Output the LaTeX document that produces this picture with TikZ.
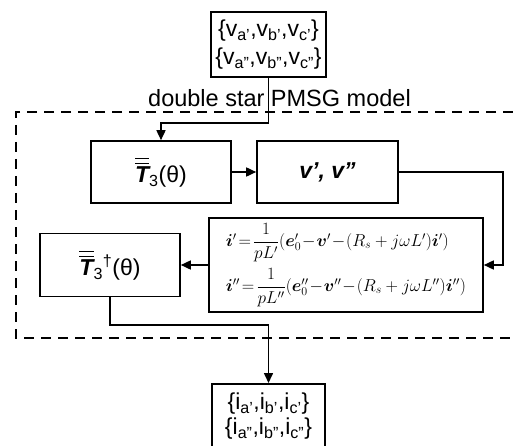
\documentclass[tikz,border=0pt]{standalone}
\usepackage{amsmath}
\usepackage{bm}
\usepackage{fontspec}
\setmainfont{Liberation Sans}
\usetikzlibrary{arrows.meta}
\newcommand{\TT}{$\overline{\overline{\text{\bfseries\itshape T}}}_{\text{3}}$}
\begin{document}
\begin{tikzpicture}[x=1pt,y=-1pt,
  box/.style={draw, line width=1.6pt, inner sep=0pt, align=center, font=\fontsize{23}{28}\selectfont},
  conn/.style={line width=1.6pt},
  arr/.style={conn,-{Triangle[length=10pt,width=9pt]}},
  frame/.style={line width=2.2pt, dash pattern=on 10pt off 7pt}]
\useasboundingbox (0,0) rectangle (513,446);
\clip (0,0) rectangle (513,446);

% dashed model frame
\draw[frame] (530,112) -- (16,112) -- (16,338) -- (530,338);
\node[font=\fontsize{23.5}{28}\selectfont, anchor=base, inner sep=0pt] (lbl) at (279.5,107) {double star PMSG model};

% nodes
\node[box, minimum width=115, minimum height=65] (vin) at (268.5,44.5)
  {\{v\textsubscript{a'},v\textsubscript{b'},v\textsubscript{c'}\}\\
   \{v\textsubscript{a"},v\textsubscript{b"},v\textsubscript{c"}\}};
\node[box, minimum width=140, minimum height=62] (T3) at (161,172) {\TT(θ)};
\node[box, minimum width=141, minimum height=62] (V) at (327.5,172) {{\bfseries\itshape v', v''}};
\node[box, minimum width=274, minimum height=94, align=left, font=\fontsize{18.5}{22}\selectfont] (eq) at (346,265)
  {$\bm{i}'\!=\!\dfrac{1}{pL'}(\bm{e}'_0\!-\!\bm{v}'\!-\!(R_s+j\omega L')\bm{i}')$\\[6pt]
   $\bm{i}''\!=\!\dfrac{1}{pL''}(\bm{e}''_0\!-\!\bm{v}''\!-\!(R_s+j\omega L'')\bm{i}'')$};
\node[box, minimum width=140, minimum height=63] (T3d) at (110,265) {\TT\textsuperscript{†}(θ)};
\node[box, minimum width=113, anchor=north, inner ysep=9pt, font=\fontsize{23}{25}\selectfont] (out) at (268.5,383)
  {\{i\textsubscript{a'},i\textsubscript{b'},i\textsubscript{c'}\}\\
   \{i\textsubscript{a"},i\textsubscript{b"},i\textsubscript{c"}\}};

% bend points
\coordinate (k1) at (161,123);
\coordinate (k2) at (503,172);
\coordinate (k3) at (503,265);
\coordinate (k4) at (268.5,325);

% connectors
\draw[arr] (vin.south) |- (k1) -- (T3.north);
\draw[arr] (T3.east) -- (V.west);
\draw[arr] (V.east) -- (k2) -- (k3) -- (eq.east);
\draw[arr] (eq.west) -- (T3d.east);
\draw[arr] (T3d.south) |- (k4) -- (out.north);
\end{tikzpicture}
\end{document}
